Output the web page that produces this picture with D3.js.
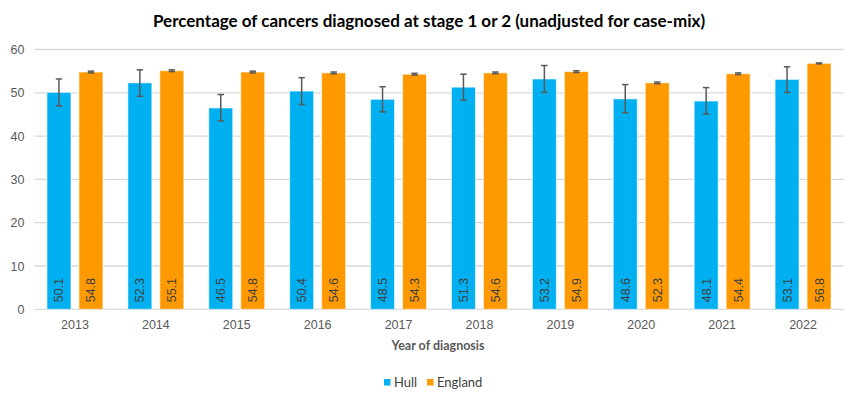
<!DOCTYPE html>
<html>
<head>
<meta charset="utf-8">
<script src="https://cdn.jsdelivr.net/npm/d3@7"></script>
<style>
  body { margin: 0; background: #fff; }
  svg { display: block; }
</style>
</head>
<body>
<svg id="chart"></svg>
<script>
// chart data
var years = ["2013", "2014", "2015", "2016", "2017", "2018", "2019", "2020", "2021", "2022"];
var seriesNames = ["Hull", "England"];
var hull = [50.1, 52.3, 46.5, 50.4, 48.5, 51.3, 53.2, 48.6, 48.1, 53.1];
var hullLower = [47.0, 49.2, 43.5, 47.3, 45.6, 48.3, 50.1, 45.4, 45.1, 50.1];
var hullUpper = [53.2, 55.3, 49.6, 53.5, 51.4, 54.3, 56.3, 51.9, 51.2, 56.0];
var england = [54.8, 55.1, 54.8, 54.6, 54.3, 54.6, 54.9, 52.3, 54.4, 56.8];
var englandLower = [54.6, 54.9, 54.6, 54.4, 54.1, 54.4, 54.7, 52.1, 54.2, 56.7];
var englandUpper = [55.0, 55.3, 55.0, 54.8, 54.5, 54.8, 55.1, 52.5, 54.6, 56.9];
var yTicks = [0, 10, 20, 30, 40, 50, 60];

var width = 858,
    height = 403;

var colors = { Hull: "#00B0F0", England: "#FF9900" };

var plot = { left: 34.5, right: 843.5, top: 49.5, bottom: 309.3 };

var svg = d3.select("#chart")
    .attr("width", width)
    .attr("height", height);

// build rows for drawing
var rows = years.map(function(y, i) {
  return {
    year: y,
    values: [
      { name: "Hull", value: hull[i], lo: hullLower[i], hi: hullUpper[i] },
      { name: "England", value: england[i], lo: englandLower[i], hi: englandUpper[i] }
    ]
  };
});

var x = d3.scaleBand()
    .domain(years)
    .range([plot.left, plot.right])
    .paddingInner(0.308)
    .paddingOuter(0.154);

var xs = d3.scaleBand()
    .domain(seriesNames)
    .range([0, x.bandwidth()])
    .paddingInner(0.25);

var y = d3.scaleLinear()
    .domain([0, 60])
    .range([plot.bottom, plot.top]);

// gridlines
svg.append("g")
  .selectAll("line")
  .data(yTicks)
  .enter().append("line")
    .attr("x1", plot.left)
    .attr("x2", plot.right)
    .attr("y1", function(d) { return y(d); })
    .attr("y2", function(d) { return y(d); })
    .attr("stroke", "#d9d9d9")
    .attr("stroke-width", 1.3);

// y axis labels
var yAxis = d3.axisLeft(y).tickValues(yTicks).tickSize(0).tickPadding(0);
var yg = svg.append("g")
    .attr("transform", "translate(" + (plot.left - 10) + ",0)")
    .call(yAxis);
yg.select(".domain").remove();
yg.selectAll("text")
    .attr("fill", "#595959")
    .style("font-family", "'Liberation Sans', Arial, sans-serif")
    .style("font-size", "12.5px");

// x axis labels
var xAxis = d3.axisBottom(x).tickSize(0).tickPadding(0);
var xg = svg.append("g")
    .attr("transform", "translate(0," + (plot.bottom + 11) + ")")
    .call(xAxis);
xg.select(".domain").remove();
xg.selectAll("text")
    .attr("fill", "#595959")
    .style("font-family", "'Liberation Sans', Arial, sans-serif")
    .style("font-size", "12.5px");

// bars
var groups = svg.append("g")
  .selectAll("g")
  .data(rows)
  .enter().append("g")
    .attr("transform", function(d) { return "translate(" + x(d.year) + ",0)"; });

groups.selectAll("rect")
  .data(function(d) { return d.values; })
  .enter().append("rect")
    .attr("x", function(d) { return xs(d.name); })
    .attr("y", function(d) { return y(d.value); })
    .attr("width", xs.bandwidth())
    .attr("height", function(d) { return y(0) - y(d.value); })
    .attr("fill", function(d) { return colors[d.name]; })
    .attr("stroke", "#ffffff")
    .attr("stroke-opacity", 0.6)
    .attr("stroke-width", 1);

// error bars
var capW = 3.2;
var eb = groups.selectAll(".err")
  .data(function(d) { return d.values; })
  .enter().append("g")
    .attr("class", "err")
    .attr("stroke", "#595959")
    .attr("stroke-width", 1.5);

eb.append("line")
    .attr("x1", function(d) { return xs(d.name) + xs.bandwidth() / 2; })
    .attr("x2", function(d) { return xs(d.name) + xs.bandwidth() / 2; })
    .attr("y1", function(d) { return y(d.lo); })
    .attr("y2", function(d) { return y(d.hi); });

eb.selectAll(".cap")
  .data(function(d) { return [d.lo, d.hi].map(function(v) { return { name: d.name, v: v }; }); })
  .enter().append("line")
    .attr("class", "cap")
    .attr("x1", function(d) { return xs(d.name) + xs.bandwidth() / 2 - capW; })
    .attr("x2", function(d) { return xs(d.name) + xs.bandwidth() / 2 + capW; })
    .attr("y1", function(d) { return y(d.v); })
    .attr("y2", function(d) { return y(d.v); });

// data labels, inside base, rotated
groups.selectAll(".lbl")
  .data(function(d) { return d.values; })
  .enter().append("text")
    .attr("class", "lbl")
    .attr("transform", function(d) {
      return "translate(" + (xs(d.name) + xs.bandwidth() / 2) + "," + (y(0) - 7) + ") rotate(-90)";
    })
    .attr("dy", "0.36em")
    .attr("text-anchor", "start")
    .attr("fill", "#404040")
    .style("font-family", "'Liberation Sans', Arial, sans-serif")
    .style("font-size", "12.5px")
    .text(function(d) { return d.value.toFixed(1); });

// title
svg.append("text")
    .attr("x", 429)
    .attr("y", 27)
    .attr("text-anchor", "middle")
    .attr("fill", "#000")
    .style("font-family", "Lato, 'Open Sans', sans-serif")
    .style("font-weight", "bold")
    .style("font-size", "17px")
    .text("Percentage of cancers diagnosed at stage 1 or 2 (unadjusted for case-mix)");

// axis title
svg.append("text")
    .attr("x", 438)
    .attr("y", 350)
    .attr("text-anchor", "middle")
    .attr("fill", "#595959")
    .style("font-family", "Lato, 'Open Sans', sans-serif")
    .style("font-weight", "bold")
    .style("font-size", "12.5px")
    .text("Year of diagnosis");

// legend
var legend = svg.append("g");
var legendX = [384, 427];
seriesNames.forEach(function(name, i) {
  legend.append("rect")
      .attr("x", legendX[i])
      .attr("y", 379)
      .attr("width", 6.5)
      .attr("height", 6.5)
      .attr("fill", colors[name]);
  legend.append("text")
      .attr("x", legendX[i] + 10)
      .attr("y", 387)
      .attr("fill", "#404040")
      .style("font-family", "Lato, 'Open Sans', sans-serif")
      .style("font-size", "13px")
      .text(name);
});
</script>
</body>
</html>
